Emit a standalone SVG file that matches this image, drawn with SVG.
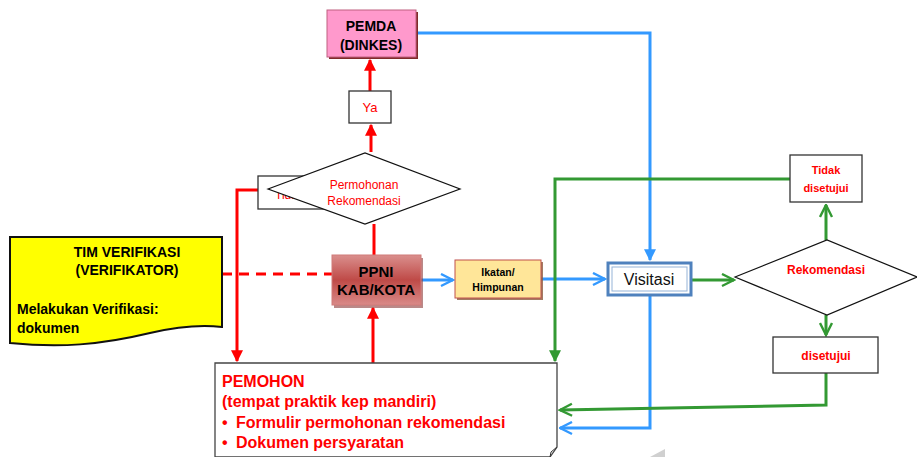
<svg xmlns="http://www.w3.org/2000/svg" width="917" height="457" viewBox="0 0 917 457">
<defs>
<linearGradient id="gPpni" x1="0" y1="0" x2="0" y2="1">
<stop offset="0" stop-color="#DA8F8D"/><stop offset="0.5" stop-color="#BF4A47"/><stop offset="1" stop-color="#D98A88"/>
</linearGradient>
<marker id="aRed" viewBox="0 0 10 10" refX="9" refY="5" markerWidth="4" markerHeight="4" orient="auto"><path d="M0,0 L10,5 L0,10 Z" fill="#FF0000"/></marker>
<marker id="aBlue" viewBox="0 0 10 10" refX="9" refY="5" markerWidth="4" markerHeight="4" orient="auto"><path d="M0,0 L10,5 L0,10 Z" fill="#3399FF"/></marker>
<marker id="aBlueO" viewBox="0 0 10 10" refX="9" refY="5" markerWidth="5" markerHeight="5" orient="auto"><path d="M1,1 L9,5 L1,9" fill="none" stroke="#3399FF" stroke-width="1.6"/></marker>
<marker id="aGreenO" viewBox="0 0 10 10" refX="9" refY="5" markerWidth="5" markerHeight="5" orient="auto"><path d="M1,1 L9,5 L1,9" fill="none" stroke="#339933" stroke-width="1.6"/></marker>
<marker id="aGreen" viewBox="0 0 10 10" refX="9" refY="5" markerWidth="4" markerHeight="4" orient="auto"><path d="M0,0 L10,5 L0,10 Z" fill="#339933"/></marker>
</defs>
<style>
text{font-family:"Liberation Sans",Arial,sans-serif}
.b{font-weight:bold}
.red{fill:#FF0000}
.c{text-anchor:middle}
.box{fill:#fff;stroke:#333;stroke-width:1.3}
.lr{fill:none;stroke:#FF0000;stroke-width:3}
.lb{fill:none;stroke:#3399FF;stroke-width:3}
.lg{fill:none;stroke:#339933;stroke-width:3}
</style>

<g id="connectors">
<path class="lr" d="M370,91 V60" marker-end="url(#aRed)"/>
<path class="lr" d="M371,152 V125" marker-end="url(#aRed)"/>
<path class="lr" d="M374,224 V255"/>
<path class="lr" d="M258,190 H237 V361" marker-end="url(#aRed)"/>
<path class="lr" d="M373,363 V308" marker-end="url(#aRed)"/>
<path class="lr" d="M222,274 H332" stroke-dasharray="10,7"/>
<path class="lb" d="M421,280 H453" marker-end="url(#aBlueO)"/>
<path class="lb" d="M541,279 H605" marker-end="url(#aBlueO)"/>
<path class="lb" d="M416,33 H650 V260" marker-end="url(#aBlue)"/>
<path class="lb" d="M650,296 V428 H560" marker-end="url(#aBlueO)"/>
<path class="lg" d="M692,280 H734" marker-end="url(#aGreenO)"/>
<path class="lg" d="M826,240 V205" marker-end="url(#aGreenO)"/>
<path class="lg" d="M790,179 H555 V361" marker-end="url(#aGreen)"/>
<path class="lg" d="M826,315 V335" marker-end="url(#aGreenO)"/>
<path class="lg" d="M826,373 V405 L560,410" marker-end="url(#aGreenO)"/>
</g>

<g id="pemda">
<rect x="329" y="12" width="89" height="47" fill="#7F2A2A"/>
<rect x="327" y="10" width="89" height="47" fill="#FF99CC" stroke="#C06080" stroke-width="1"/>
<text class="b c" x="371" y="31" font-size="14">PEMDA</text>
<text class="b c" x="371" y="50" font-size="14">(DINKES)</text>
</g>

<g id="ya">
<rect class="box" x="349" y="91" width="42" height="32"/>
<text class="red c" x="370" y="112" font-size="13">Ya</text>
</g>

<g id="tidak1">
<rect class="box" x="258" y="176" width="70" height="33"/>
<text class="red" x="275" y="199" font-size="12">Tidak</text>
</g>

<g id="permohonan">
<polygon points="268,189 365,153 460,189 365,224" fill="#fff" stroke="#111" stroke-width="1.2"/>
<text class="red c" x="364" y="189" font-size="12">Permohonan</text>
<text class="red c" x="364" y="205" font-size="12">Rekomendasi</text>
</g>

<g id="ppni">
<rect x="334" y="258" width="89" height="50" fill="#8C3A38" opacity="0.6"/>
<rect x="332" y="255" width="89" height="50" fill="url(#gPpni)" stroke="#D07A78" stroke-width="1"/>
<text class="b c" x="376" y="277" font-size="15">PPNI</text>
<text class="b c" x="376" y="295" font-size="15">KAB/KOTA</text>
</g>

<g id="tim">
<path d="M10,237 H222 V327 C205,325 180,326 150,333 C100,345 60,348 10,343 Z" fill="#FFFF00" stroke="#111" stroke-width="2"/>
<text class="b c" x="127" y="257" font-size="14">TIM VERIFIKASI</text>
<text class="b c" x="127" y="275" font-size="14">(VERIFIKATOR)</text>
<text class="b" x="17" y="314" font-size="14">Melakukan Verifikasi:</text>
<text class="b" x="17" y="333" font-size="14">dokumen</text>
</g>

<g id="ikatan">
<rect x="457" y="262" width="86" height="38" fill="#8C5A3C" opacity="0.8"/>
<rect x="455" y="260" width="86" height="38" fill="#FFE699" stroke="#C0504D" stroke-width="1"/>
<text class="b c" x="498" y="276" font-size="10.5">Ikatan/</text>
<text class="b c" x="498" y="291" font-size="10.5">Himpunan</text>
</g>

<g id="visitasi">
<rect x="608" y="263" width="83" height="32" fill="#fff" stroke="#4F81BD" stroke-width="3"/>
<rect x="612" y="267" width="75" height="24" fill="none" stroke="#95B3D7" stroke-width="1"/>
<text class="c" x="649" y="285" font-size="16" fill="#111">Visitasi</text>
</g>

<g id="rekomendasi">
<polygon points="735,277 827,240 917,277 827,315" fill="#fff" stroke="#111" stroke-width="1.2"/>
<text class="b red c" x="826" y="274" font-size="12">Rekomendasi</text>
</g>

<g id="tidak2">
<rect class="box" x="790" y="155" width="72" height="47"/>
<text class="b red c" x="826" y="174" font-size="11">Tidak</text>
<text class="b red c" x="826" y="192" font-size="11">disetujui</text>
</g>

<g id="disetujui">
<rect class="box" x="773" y="337" width="105" height="36"/>
<text class="b red c" x="826" y="360" font-size="12">disetujui</text>
</g>

<g id="pemohon">
<path d="M215,363 H557 V447 L550,457 H215 Z" fill="#fff" stroke="#444" stroke-width="1.3"/>
<path d="M550,457 L551,452 L557,447" fill="none" stroke="#333" stroke-width="1"/>
<text class="b red" x="222" y="387" font-size="16">PEMOHON</text>
<text class="b red" x="222" y="407" font-size="16">(tempat praktik kep mandiri)</text>
<text class="b red" x="222" y="428" font-size="16">•</text>
<text class="b red" x="236" y="428" font-size="16">Formulir permohonan rekomendasi</text>
<text class="b red" x="222" y="448" font-size="16">•</text>
<text class="b red" x="236" y="448" font-size="16">Dokumen persyaratan</text>
</g>

<polygon points="650,457 665,449 665,457" fill="#D0D0D0"/>
</svg>
